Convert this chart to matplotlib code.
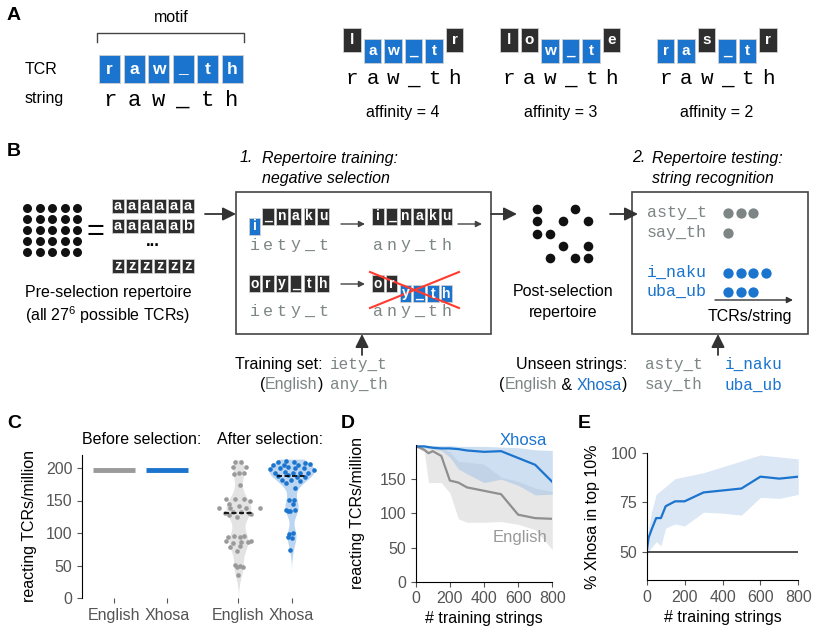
import numpy as np
import matplotlib
matplotlib.use("Agg")
import matplotlib.pyplot as plt
from matplotlib.patches import Rectangle

plt.rcParams['font.family'] = ['Liberation Sans', 'DejaVu Sans']
plt.rcParams['mathtext.fontset'] = 'custom'
plt.rcParams['mathtext.rm'] = 'Liberation Sans'
plt.rcParams['mathtext.it'] = 'Liberation Sans:italic'
MONO = 'Liberation Mono'

BLUE = '#1b74cd'
DARK = '#2e2e2e'
GRAYTXT = '#7d8585'
GRAY = '#9a9a9a'
LINE = '#333333'
TICK = '#555555'

# ---------------- data ----------------
# panel A
motif = "raw_th"
example_tcrs = ["law_tr", "low_te", "ras_tr"]

# panel B
pre_rows = ["aaaaaa", "aaaaab", "zzzzzz"]
survivors = ["x..x.", "x.x.x", "xx...", "..x.x", ".x.xx"]
train_tcrs = ["i_naku", "ory_th"]
train_strings = ["iety_t", "any_th"]
threshold = 4
test_english = ["asty_t", "say_th"]
test_xhosa = ["i_naku", "uba_ub"]
tcrs_per_string = [3, 1, 4, 3]

# panel C
c_labels = ["English", "Xhosa", "English", "Xhosa"]
before_english = 197
before_xhosa = 197
after_english = [209.7, 208.7, 202, 201, 190.3, 192, 192, 174, 152, 152, 152, 149.7,
                 145, 137.7, 139, 141, 139, 138, 131, 132.6, 132.6, 131, 129, 127.7,
                 124, 94.4, 95.4, 94.4, 95.4, 88, 84, 86.7, 85.6, 87.7, 79, 80, 72.6,
                 51, 49.2, 48, 47, 35.4]
after_english_jit = [-0.06, 0.05, -0.11, 0.15, -0.09, 0.01, 0.10, 0.03, -0.23, -0.06,
                     0.11, 0.21, -0.17, -0.36, -0.16, 0.01, 0.15, 0.40, -0.26, -0.11,
                     0.05, 0.19, 0.24, -0.18, -0.03, -0.20, -0.08, 0.02, 0.11, -0.23,
                     -0.11, 0.05, 0.18, 0.24, -0.16, 0.02, -0.03, -0.06, 0.02, 0.08,
                     -0.03, -0.01]
after_xhosa = [211.3, 208.7, 208.7, 207.2, 205, 205, 205, 206, 198, 199.5, 201, 200.5,
               199.5, 197, 192.8, 194.3, 192.8, 192.8, 191.8, 187.7, 189.2, 186.7,
               186.7, 181.5, 181.5, 180.5, 176.4, 168.7, 150.8, 150.8, 144.6, 135.4,
               134.4, 135.4, 133.3, 98.5, 100.5, 93.3, 91.8, 73.8]
after_xhosa_jit = [-0.11, -0.25, 0.04, 0.26, -0.34, -0.15, 0.13, 0.35, -0.40, -0.21,
                   -0.06, 0.07, 0.23, 0.42, -0.31, -0.13, 0.02, 0.16, 0.32, -0.25,
                   -0.07, 0.10, 0.26, -0.18, -0.01, 0.16, -0.11, 0.07, -0.04, 0.04,
                   0.02, -0.11, -0.02, 0.07, -0.06, -0.04, 0.02, -0.07, 0.01, -0.02]

# panel D
d_x = [0, 25, 50, 75, 100, 150, 200, 250, 300, 400, 500, 600, 700, 800]
d_xhosa = [198, 198, 198, 197, 196, 195, 195, 194, 192, 190, 191, 181, 171, 146]
d_xhosa_lo = [198, 197, 196, 195, 194, 192, 182, 165, 158, 145, 150, 141, 127, 128]
d_xhosa_hi = [199, 199, 199, 199, 199, 199, 199, 198, 198, 198, 197, 196, 193, 192]
d_english = [198, 196, 193, 188, 191, 184, 148, 145, 138, 133, 128, 98, 93, 92]
d_english_lo = [198, 193, 190, 145, 145, 145, 130, 92, 87, 87, 88, 84, 76, 47]
d_english_hi = [198, 198, 197, 197, 197, 195, 190, 176, 175, 172, 153, 147, 137, 132]

# panel E
e_x = [0, 10, 25, 50, 75, 100, 150, 200, 300, 400, 500, 600, 700, 800]
e_mean = [50, 57, 61, 67, 67, 73, 75.5, 75.5, 80, 81, 82, 88, 87, 88]
e_lo = [47, 50, 52, 55, 53, 62, 64, 63, 70, 69.5, 68.5, 77.5, 77, 79]
e_hi = [52, 62, 70, 79, 81, 83, 87, 88, 90, 93, 96, 99, 98, 97]


def matches(tcr, s):
    return [a == b for a, b in zip(tcr, s)]


def affinity(tcr, s):
    best = run = 0
    for m in matches(tcr, s):
        run = run + 1 if m else 0
        best = max(best, run)
    return best


fig = plt.figure(figsize=(8.19, 6.41), dpi=100)
ax0 = fig.add_axes([0, 0, 1, 1])
ax0.set_xlim(0, 819)
ax0.set_ylim(641, 0)
ax0.axis('off')
renderer = fig.canvas.get_renderer()


def draw_tcr(x0, yc, tcr, against, pitch, w, h, shift, fs, color=None):
    m = matches(tcr, against) if against else [False] * len(tcr)
    for k, ch in enumerate(tcr):
        xc = x0 + k * pitch
        if color is not None:
            col, y = color, yc
        elif m[k]:
            col, y = BLUE, yc + shift / 2
        else:
            col, y = DARK, yc - shift / 2
        ax0.add_patch(Rectangle((xc - w / 2, y - h / 2), w, h, fc=col, ec='#cfcfcf', lw=0.6))
        ax0.text(xc, y, ch, color='white', ha='center', va='center', fontsize=fs,
                 fontweight='bold')


def draw_string(x0, y, s, pitch, color, fs):
    for k, ch in enumerate(s):
        ax0.text(x0 + k * pitch, y, ch, color=color, ha='center', va='center',
                 fontsize=fs, family=MONO)


def text_parts(x, y, parts, ha='left', **kw):
    objs = [ax0.text(0, y, s, color=c, va='center', ha='left', **kw) for s, c in parts]
    widths = [o.get_window_extent(renderer).width for o in objs]
    xs = x - sum(widths) if ha == 'right' else x
    for o, wd in zip(objs, widths):
        o.set_x(xs)
        xs += wd


def arrow(x0, y0, x1, y1, big=True, color=LINE):
    if big:
        props = dict(arrowstyle='-|>', color=color, lw=1.3, mutation_scale=20,
                     shrinkA=0, shrinkB=0)
    else:
        props = dict(arrowstyle='-|>', color=color, lw=1.0, mutation_scale=9,
                     shrinkA=0, shrinkB=0)
    ax0.annotate('', xy=(x1, y1), xytext=(x0, y0), arrowprops=props)


# panel letters
for lab, (x, y) in zip("ABCDE", [(14, 16), (14, 151), (14, 423), (348, 423), (584, 423)]):
    ax0.text(x, y, lab, fontsize=14, fontweight='bold', ha='center', va='center')

# ---------------- panel A ----------------
ax0.text(171, 18, 'motif', ha='center', va='center', fontsize=11.5)
ax0.plot([97, 97, 244, 244], [42, 33, 33, 42], color='#444444', lw=1)
ax0.text(25, 70, 'TCR', va='center', fontsize=11.5)
ax0.text(25, 99, 'string', va='center', fontsize=11.5)
draw_tcr(109.5, 69, motif, None, 24.5, 21, 28, 0, 12.5, color=BLUE)
draw_string(109.5, 100, motif, 24.5, 'black', 16)

for x0, tcr in zip([352, 509, 665.5], example_tcrs):
    draw_tcr(x0, 45.5, tcr, motif, 20.5, 17.5, 24, 11, 11)
    draw_string(x0, 79, motif, 20.5, 'black', 15)
    ax0.text(x0 + 2.5 * 20.5, 112, f'affinity = {affinity(tcr, motif)}',
             ha='center', va='center', fontsize=11.5)

# ---------------- panel B ----------------
gx, gy = np.meshgrid(np.arange(5), np.arange(5))
ax0.scatter(27 + 12.5 * gx.ravel(), 208 + 11 * gy.ravel(), s=42, color='#111111', lw=0)
ax0.text(95, 232, '=', ha='center', va='center', fontsize=22)
for s, yc in zip(pre_rows, [206, 226, 266]):
    draw_tcr(118, yc, s, None, 14, 12.5, 13.5, 0, 10.5, color=DARK)
ax0.text(153, 242, '...', ha='center', va='center', fontsize=12, fontweight='bold')
ax0.text(108, 292, 'Pre-selection repertoire', ha='center', va='center', fontsize=11.5)
ax0.text(108, 315, '(all 27$^6$ possible TCRs)', ha='center', va='center', fontsize=11.5)
arrow(205, 214, 236, 214)

# training box
ax0.add_patch(Rectangle((236, 192), 255, 142, fc='none', ec='#444444', lw=1.2))
ax0.text(240, 158, '1.', ha='left', va='center', fontsize=11.5, style='italic')
ax0.text(262, 158, 'Repertoire training:', ha='left', va='center', fontsize=11.5, style='italic')
ax0.text(262, 178, 'negative selection', ha='left', va='center', fontsize=11.5, style='italic')

pitch_b = 13.7
for tcr, yc, sy, ay in zip(train_tcrs, [221, 288.5], [245, 311], [224, 284]):
    draw_tcr(254.5, yc, tcr, train_strings[0], pitch_b, 11.5, 17, 10, 10)
    draw_string(254.5, sy, train_strings[0], pitch_b, GRAYTXT, 12)
    arrow(341, ay, 365, ay, big=False, color='#444444')
    draw_tcr(378, yc, tcr, train_strings[1], pitch_b, 11.5, 17, 10, 10)
    draw_string(378, sy, train_strings[1], pitch_b, GRAYTXT, 12)
    if affinity(tcr, train_strings[1]) >= threshold:
        ax0.plot([370, 459], [yc - 16.5, yc + 19.5], color='#ff3b30', lw=1.5)
        ax0.plot([370, 459], [yc + 19.5, yc - 16.5], color='#ff3b30', lw=1.5)
    else:
        arrow(458, ay, 482, ay, big=False, color='#444444')

arrow(362, 355, 362, 334)
ax0.text(323, 365, 'Training set:', ha='right', va='center', fontsize=11.5)
text_parts(323, 385, [('(', 'black'), ('English', GRAYTXT), (')', 'black')], ha='right',
           fontsize=11.5)
ax0.text(330, 365, train_strings[0], ha='left', va='center', fontsize=11.5, family=MONO,
         color=GRAYTXT)
ax0.text(330, 385, train_strings[1], ha='left', va='center', fontsize=11.5, family=MONO,
         color=GRAYTXT)

# post-selection repertoire
arrow(491, 214, 517, 214)
for j, row in enumerate(survivors):
    for i, c in enumerate(row):
        if c == 'x':
            ax0.scatter(536.7 + 12.9 * i, 209 + 12.3 * j, s=48, color='#111111', lw=0)
ax0.text(563, 292, 'Post-selection', ha='center', va='center', fontsize=11.5)
ax0.text(563, 312, 'repertoire', ha='center', va='center', fontsize=11.5)
arrow(610, 214, 638, 214)

# testing box
ax0.add_patch(Rectangle((632, 192), 176, 142, fc='none', ec='#444444', lw=1.2))
ax0.text(632, 158, '2.', ha='left', va='center', fontsize=11.5, style='italic')
ax0.text(652, 158, 'Repertoire testing:', ha='left', va='center', fontsize=11.5, style='italic')
ax0.text(652, 178, 'string recognition', ha='left', va='center', fontsize=11.5, style='italic')
test_strings = test_english + test_xhosa
test_cols = [GRAYTXT] * len(test_english) + [BLUE] * len(test_xhosa)
for s, c, n, y in zip(test_strings, test_cols, tcrs_per_string, [212, 232, 272, 291]):
    ax0.text(647, y, s, ha='left', va='center', fontsize=12, family=MONO, color=c)
    ax0.scatter(728 + 12.5 * np.arange(n), [y + 1] * n, s=55, color=c, lw=0)
arrow(715, 300, 793, 300, big=False)
ax0.text(750, 317, 'TCRs/string', ha='center', va='center', fontsize=11.5)
arrow(718, 355, 718, 334)
ax0.text(627, 364, 'Unseen strings:', ha='right', va='center', fontsize=11.5)
text_parts(627, 385, [('(', 'black'), ('English', GRAYTXT), (' & ', 'black'),
                      ('Xhosa', BLUE), (')', 'black')], ha='right', fontsize=11.5)
for s, x, y, c in zip(test_strings, [645, 645, 725, 725], [364, 385, 364, 385], test_cols):
    ax0.text(x, y, s, ha='left', va='center', fontsize=11.5, family=MONO, color=c)

# ---------------- panel C ----------------
W, H = 819, 641


def add_ax(left, top, right, bottom):
    a = fig.add_axes([left / W, (H - bottom) / H, (right - left) / W, (bottom - top) / H])
    a.patch.set_alpha(0)
    for sp in ['top', 'right']:
        a.spines[sp].set_visible(False)
    a.tick_params(labelsize=11.5, labelcolor=TICK, length=3.5, width=0.8, color='#555555')
    return a


axc = add_ax(82, 455, 326, 598)
pos = [0, 1, 2.35, 3.35]
axc.set_xlim(-0.6, 4.0)
axc.set_ylim(0, 220)
axc.spines['bottom'].set_visible(False)
axc.set_xticks(pos)
axc.set_xticklabels(c_labels)
axc.set_yticks([0, 50, 100, 150, 200])
axc.set_ylabel('reacting TCRs/million', fontsize=11.5)
axc.yaxis.set_label_coords(-0.185, 0.5)
axc.hlines(before_english, pos[0] - 0.4, pos[0] + 0.4, color=GRAY, lw=3.5)
axc.hlines(before_xhosa, pos[1] - 0.4, pos[1] + 0.4, color=BLUE, lw=3.5)


def kde(vals, grid, bw):
    v = np.asarray(vals)[:, None]
    return np.exp(-0.5 * ((grid[None, :] - v) / bw) ** 2).sum(0) / (len(vals) * bw * np.sqrt(2 * np.pi))


groups = [(after_english, after_english_jit, pos[2], '#e3e3e3', GRAY),
          (after_xhosa, after_xhosa_jit, pos[3], '#bcd5f0', BLUE)]
dens = []
for vals, jit, p, fc, pc in groups:
    vals = np.asarray(vals)
    bw = 0.65 * np.std(vals) * len(vals) ** (-0.2)
    grid = np.linspace(max(0, vals.min() - 2.5 * bw), vals.max() + 0.2 * bw, 300)
    dens.append((grid, kde(vals, grid, bw)))
scale = 0.43 / dens[1][1].max()
for (vals, jit, p, fc, pc), (grid, d) in zip(groups, dens):
    axc.fill_betweenx(grid, p - d * scale, p + d * scale, color=fc, lw=0, zorder=1)
    axc.scatter(p + np.asarray(jit), vals, s=11, color=pc, lw=0, zorder=2)
    axc.hlines(np.median(vals), p - 0.27, p + 0.27, color='black', lw=1.2,
               linestyles=(0, (3, 1.5)), zorder=3)
ax0.text(142, 439, 'Before selection:', ha='center', va='center', fontsize=11.5)
ax0.text(270, 439, 'After selection:', ha='center', va='center', fontsize=11.5)

# ---------------- panel D ----------------
axd = add_ax(415.7, 445, 552.3, 581.7)
axd.fill_between(d_x, d_english_lo, d_english_hi, color='#d0d0d0', alpha=0.5, lw=0)
axd.fill_between(d_x, d_xhosa_lo, d_xhosa_hi, color='#9fc1e7', alpha=0.5, lw=0)
axd.plot(d_x, d_english, color='#8f8f8f', lw=1.6)
axd.plot(d_x, d_xhosa, color=BLUE, lw=1.6)
axd.set_xlim(0, 800)
axd.set_ylim(0, 200)
axd.set_xticks([0, 200, 400, 600, 800])
axd.set_yticks([0, 50, 100, 150])
axd.set_xlabel('# training strings', fontsize=11.5)
axd.set_ylabel('reacting TCRs/million', fontsize=11.5)
axd.xaxis.set_label_coords(0.5, -0.215)
axd.yaxis.set_label_coords(-0.37, 0.5)
axd.text(770, 207, 'Xhosa', color=BLUE, ha='right', va='center', fontsize=12)
axd.text(770, 65, 'English', color='#999999', ha='right', va='center', fontsize=12)

# ---------------- panel E ----------------
axe = add_ax(646.7, 453, 798.3, 580)
axe.fill_between(e_x, e_lo, e_hi, color='#dbe7f5', lw=0)
axe.axhline(50, color='#333333', lw=1.2)
axe.plot(e_x, e_mean, color=BLUE, lw=1.6)
axe.set_xlim(0, 800)
axe.set_ylim(35.6, 100)
axe.set_xticks([0, 200, 400, 600, 800])
axe.set_yticks([50, 75, 100])
axe.set_xlabel('# training strings', fontsize=11.5)
axe.set_ylabel('% Xhosa in top 10%', fontsize=11.5)
axe.xaxis.set_label_coords(0.5, -0.235)
axe.yaxis.set_label_coords(-0.31, 0.5)

fig.savefig('out.png', dpi=100)
